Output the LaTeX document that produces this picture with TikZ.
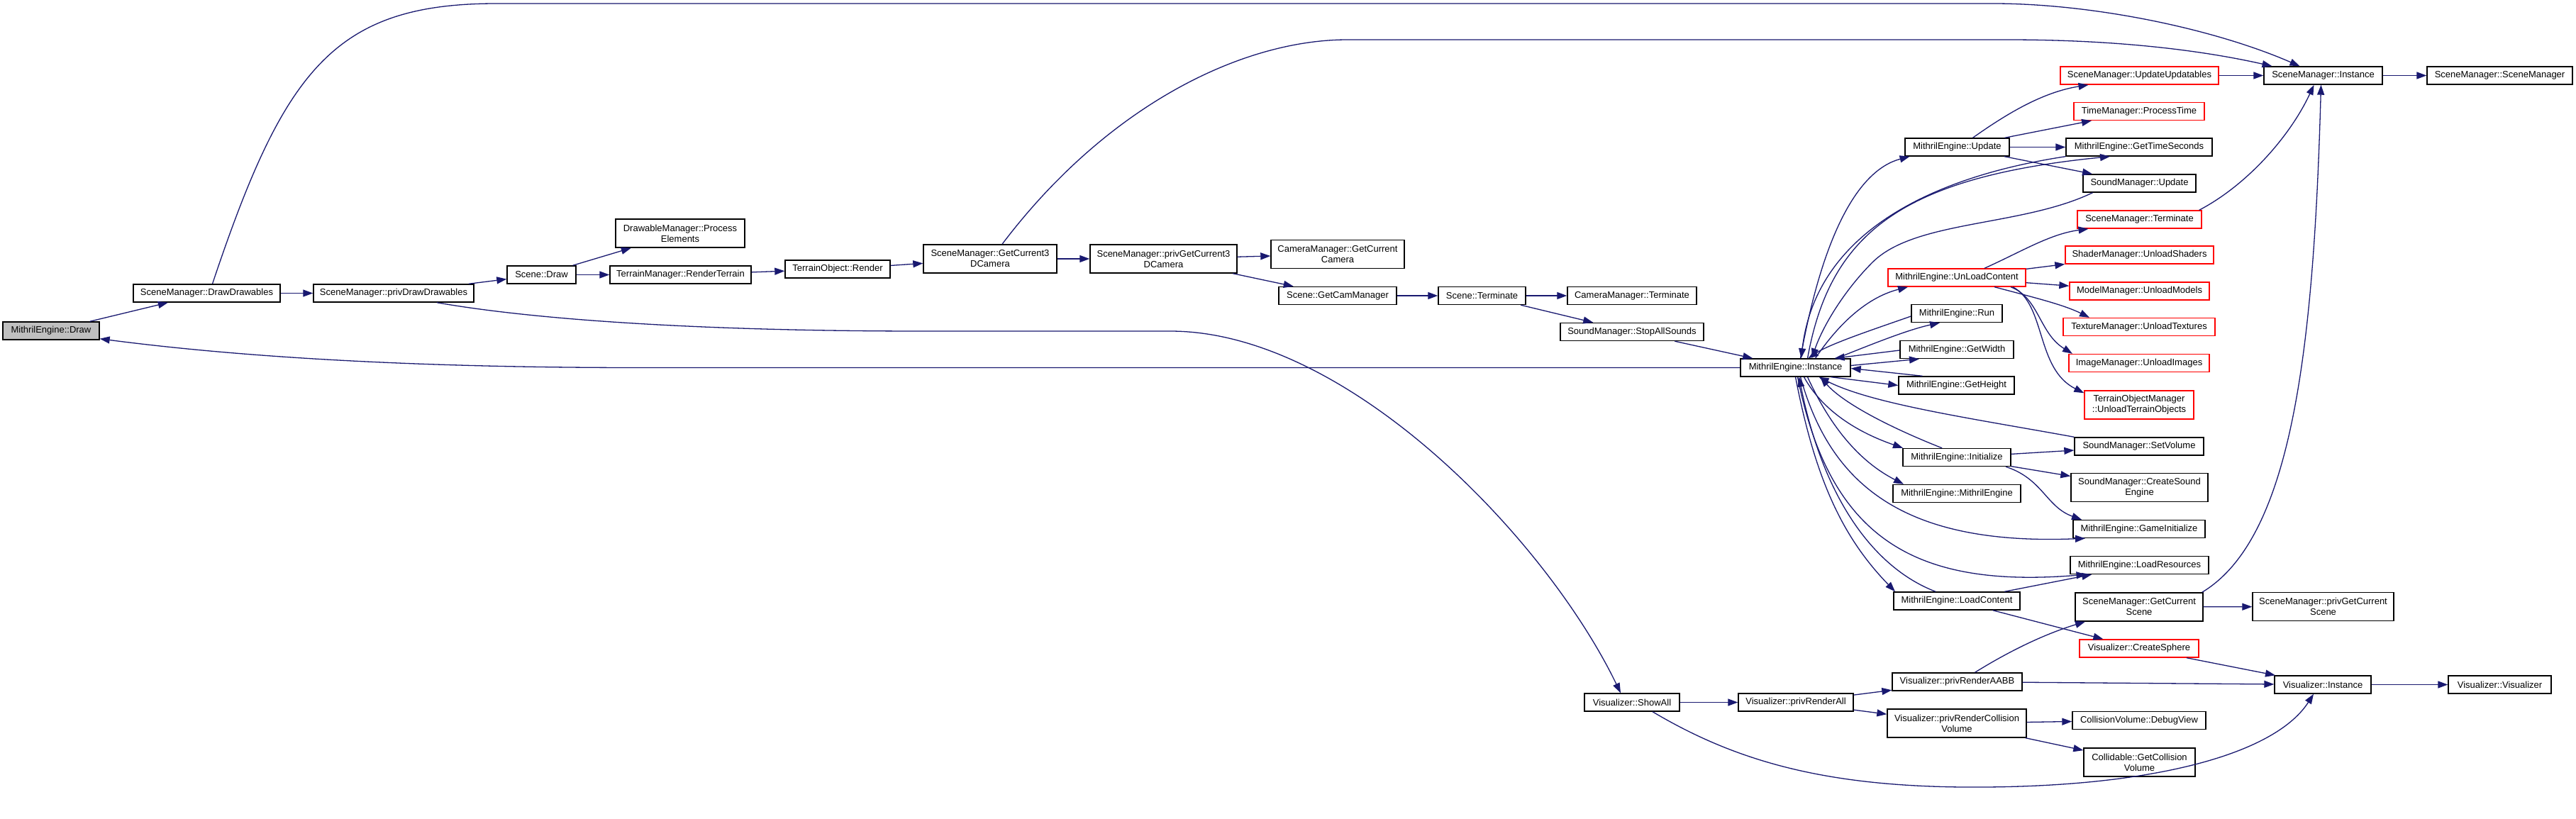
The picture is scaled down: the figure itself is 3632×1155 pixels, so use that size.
\documentclass[tikz,border=0pt]{standalone}
\usepackage{fontspec}
\setmainfont{Liberation Sans}
\usetikzlibrary{arrows.meta}
\definecolor{edgeblue}{HTML}{191970}
\definecolor{nodegray}{HTML}{BFBFBF}
\tikzset{
  box/.style={draw=black, fill=white, line width=1.4pt, inner sep=0pt, align=center, font=\fontsize{13}{15}\selectfont},
  redbox/.style={box, draw=red},
  graybox/.style={box, fill=nodegray},
  wh/.style 2 args={minimum width=#1pt, minimum height=#2pt},
  edge/.style={draw=edgeblue, line width=1.3pt, -{Triangle[length=14pt,width=10pt]}},
}
\begin{document}
\begin{tikzpicture}[x=1pt, y=-1pt]
\fill[white] (0,0) rectangle (3632,1155);
\useasboundingbox (0,0) rectangle (3632,1155);
% nodes
\node[graybox, wh={136}{25}] (draw) at (72,466.5) {MithrilEngine::Draw};
\node[box, wh={207}{25}] (dd) at (291.5,413.5) {SceneManager::DrawDrawables};
\node[box, wh={226}{25}] (pdd) at (555,413.5) {SceneManager::privDrawDrawables};
\node[box, wh={182}{40}] (dmpe) at (959,329) {DrawableManager::Process\\Elements};
\node[box, wh={97}{25}] (sdraw) at (763.5,387.5) {Scene::Draw};
\node[box, wh={199}{25}] (tmrt) at (959.5,387.5) {TerrainManager::RenderTerrain};
\node[box, wh={148}{25}] (tor) at (1181,379.5) {TerrainObject::Render};
\node[box, wh={188}{40}] (gc3) at (1396,365) {SceneManager::GetCurrent3\\DCamera};
\node[box, wh={207}{40}] (pgc3) at (1640.5,365) {SceneManager::privGetCurrent3\\DCamera};
\node[box, wh={188}{40}] (cmgcc) at (1886,358.5) {CameraManager::GetCurrent\\Camera};
\node[box, wh={166}{25}] (sgcm) at (1886,417) {Scene::GetCamManager};
\node[box, wh={123}{25}] (sterm) at (2089.5,417) {Scene::Terminate};
\node[box, wh={182}{25}] (cmterm) at (2301,417) {CameraManager::Terminate};
\node[box, wh={202}{25}] (smsas) at (2301,468) {SoundManager::StopAllSounds};
\node[box, wh={155}{25}] (meinst) at (2531.5,518.5) {MithrilEngine::Instance};
\node[box, wh={147}{25}] (meupd) at (2759.5,207.5) {MithrilEngine::Update};
\node[redbox, wh={223}{25}] (smuu) at (3016.5,106.5) {SceneManager::UpdateUpdatables};
\node[redbox, wh={184}{25}] (tmpt) at (3016,157) {TimeManager::ProcessTime};
\node[box, wh={206}{25}] (megts) at (3016,207.5) {MithrilEngine::GetTimeSeconds};
\node[box, wh={159}{25}] (smupd) at (3016.5,258.5) {SoundManager::Update};
\node[redbox, wh={175}{25}] (smterm) at (3016.5,309.5) {SceneManager::Terminate};
\node[redbox, wh={209}{25}] (shus) at (3016.5,359.5) {ShaderManager::UnloadShaders};
\node[redbox, wh={194}{25}] (meulc) at (2759,391.5) {MithrilEngine::UnLoadContent};
\node[redbox, wh={197}{25}] (mmum) at (3016.5,410.5) {ModelManager::UnloadModels};
\node[box, wh={128}{25}] (merun) at (2759,442) {MithrilEngine::Run};
\node[redbox, wh={214}{25}] (tmut) at (3016,461) {TextureManager::UnloadTextures};
\node[box, wh={160}{25}] (megw) at (2759,493) {MithrilEngine::GetWidth};
\node[redbox, wh={198}{25}] (imui) at (3016,512) {ImageManager::UnloadImages};
\node[box, wh={163}{25}] (megh) at (2758.5,543.5) {MithrilEngine::GetHeight};
\node[redbox, wh={154}{40}] (toum) at (3016,571) {TerrainObjectManager\\::UnloadTerrainObjects};
\node[box, wh={182}{25}] (smsv) at (3016,629.5) {SoundManager::SetVolume};
\node[box, wh={152}{25}] (meinit) at (2759,645) {MithrilEngine::Initialize};
\node[box, wh={193}{40}] (smcse) at (3016.5,687.5) {SoundManager::CreateSound\\Engine};
\node[box, wh={180}{25}] (meme) at (2759,696) {MithrilEngine::MithrilEngine};
\node[box, wh={186}{25}] (megi) at (3016,746) {MithrilEngine::GameInitialize};
\node[box, wh={195}{25}] (melr) at (3016.5,797) {MithrilEngine::LoadResources};
\node[box, wh={178}{25}] (melc) at (2759,847.5) {MithrilEngine::LoadContent};
\node[box, wh={180}{40}] (smgcs) at (3016,856) {SceneManager::GetCurrent\\Scene};
\node[redbox, wh={168}{25}] (vcs) at (3016,914.5) {Visualizer::CreateSphere};
\node[box, wh={183}{25}] (vpraabb) at (2759.5,961.5) {Visualizer::privRenderAABB};
\node[box, wh={162}{25}] (vpra) at (2532,990.5) {Visualizer::privRenderAll};
\node[box, wh={196}{40}] (vprcv) at (2759,1020) {Visualizer::privRenderCollision\\Volume};
\node[box, wh={188}{25}] (cvdv) at (3016,1016) {CollisionVolume::DebugView};
\node[box, wh={157}{40}] (cgcv) at (3016.5,1075) {Collidable::GetCollision\\Volume};
\node[box, wh={134}{25}] (vsa) at (2301,990.5) {Visualizer::ShowAll};
\node[box, wh={167}{25}] (sminst) at (3275.5,106.5) {SceneManager::Instance};
\node[box, wh={205}{25}] (smsm) at (3524.5,106.5) {SceneManager::SceneManager};
\node[box, wh={199}{40}] (smpgcs) at (3275.5,855.5) {SceneManager::privGetCurrent\\Scene};
\node[box, wh={136}{25}] (vinst) at (3275,965.5) {Visualizer::Instance};
\node[box, wh={145}{25}] (vvis) at (3524.5,965.5) {Visualizer::Visualizer};
% edges
\draw[edge] (draw) -- (dd);
\draw[edge] (dd) -- (pdd);
\draw[edge] ([xshift=8pt]dd.north) .. controls (400,100) and (470,5) .. (700,5) -- (2810,5) .. controls (2950,5) and (3120,40) .. ([xshift=-33pt]sminst.north);
\draw[edge] (pdd) -- (sdraw);
\draw[edge] ([xshift=61pt]pdd.south) .. controls (760,452) and (1000,467) .. (1300,467) -- (1650,467) .. controls (1900,467) and (2180,760) .. ([xshift=-16pt]vsa.north);
\draw[edge] (sdraw) -- (dmpe);
\draw[edge] (sdraw) -- (tmrt);
\draw[edge] (tmrt) -- (tor);
\draw[edge] (tor) -- (gc3);
\draw[edge] (gc3) -- (pgc3);
\draw[edge] ([xshift=17pt]gc3.north) .. controls (1560,150) and (1750,56) .. (1900,56) -- (2830,56) .. controls (2980,56) and (3100,70) .. ([xshift=-72pt]sminst.north);
\draw[edge] (pgc3) -- (cmgcc);
\draw[edge] (pgc3) -- (sgcm);
\draw[edge] (sgcm) -- (sterm);
\draw[edge] (sterm) -- (cmterm);
\draw[edge] (sterm) -- (smsas);
\draw[edge] (smsas) -- (meinst);
\draw[edge] (meinst.west) -- (900,518.5) .. controls (600,518.5) and (350,505) .. ([yshift=2pt]draw.south east);
% around MithrilEngine::Update
\draw[edge] ([xshift=7pt]meinst.north) .. controls (2570,330) and (2620,240) .. ([xshift=-67pt]meupd.south);
\draw[edge] ([xshift=22pt]meupd.north) .. controls (2830,160) and (2880,130) .. ([xshift=-72pt]smuu.south);
\draw[edge] (meupd) -- (tmpt);
\draw[edge] (meupd) -- (megts);
\draw[edge] (meupd) -- (smupd);
\draw[edge] ([xshift=17pt]meinst.north) .. controls (2580,330) and (2680,250) .. ([xshift=-41pt]megts.south);
\draw[edge] (megts.south west) .. controls (2720,250) and (2560,330) .. ([xshift=8pt]meinst.north);
\draw[edge] ([xshift=-66pt]smupd.south) .. controls (2850,320) and (2700,310) .. (2640,370) .. controls (2600,410) and (2570,460) .. ([xshift=23pt]meinst.north);
\draw[edge] (smuu) -- (sminst);
\draw[edge] (sminst) -- (smsm);
\draw[edge] ([xshift=-4pt]smterm.north east) .. controls (3170,260) and (3230,190) .. ([xshift=-13pt]sminst.south);
% UnLoadContent
\draw[edge] ([xshift=28pt]meinst.north) .. controls (2590,460) and (2630,420) .. ([xshift=-69pt]meulc.south);
\draw[edge] ([xshift=39pt]meulc.north) .. controls (2850,355) and (2890,330) .. ([xshift=-72pt]smterm.south);
\draw[edge] (meulc) -- (shus);
\draw[edge] (meulc) -- (mmum);
\draw[edge] ([xshift=53pt]meulc.south) .. controls (2870,420) and (2910,430) .. ([xshift=-70pt]tmut.north);
\draw[edge] ([xshift=76pt]meulc.south) .. controls (2875,420) and (2875,470) .. ([xshift=-94pt]imui.north);
\draw[edge] ([xshift=79pt]meulc.south) .. controls (2885,430) and (2870,520) .. ([yshift=-4pt]toum.north west);
% Run, GetWidth, GetHeight
\draw[edge] ([yshift=-4pt]merun.west) .. controls (2640,465) and (2580,485) .. ([xshift=18pt]meinst.north);
\draw[edge] ([xshift=58pt]meinst.north) .. controls (2640,485) and (2690,465) .. ([xshift=-24pt]merun.south);
\draw[edge] ([yshift=-1pt]megw.west) -- ([xshift=55pt]meinst.north);
\draw[edge] ([yshift=3pt]meinst.east) -- ([xshift=-53pt]megw.south);
\draw[edge] ([xshift=-48pt]megh.north) -- ([yshift=-1pt]meinst.east);
\draw[edge] ([xshift=50pt]meinst.south) -- (megh.west);
% Initialize
\draw[edge] (smsv.north west) .. controls (2780,590) and (2640,570) .. ([xshift=33pt]meinst.south);
\draw[edge] ([xshift=-21pt]meinit.north) .. controls (2670,605) and (2600,570) .. ([xshift=35pt]meinst.south);
\draw[edge] ([xshift=12pt]meinst.south) .. controls (2570,580) and (2620,610) .. ([xshift=-76pt]meinit.north);
\draw[edge] (meinit) -- (smsv);
\draw[edge] (meinit) -- (smcse);
\draw[edge] ([xshift=69pt]meinit.south) .. controls (2880,675) and (2885,715) .. ([xshift=-81pt]megi.north);
\draw[edge] ([xshift=17pt]meinst.south) .. controls (2580,600) and (2620,650) .. ([xshift=-75pt]meme.north);
\draw[edge] ([xshift=7pt]meinst.south) .. controls (2580,680) and (2680,770) .. ([xshift=-76pt]megi.south);
\draw[edge] ([xshift=3pt]meinst.south) .. controls (2580,760) and (2700,830) .. ([xshift=-75pt]melr.south);
% LoadContent
\draw[edge] (melc) -- (melr);
\draw[edge] (meinst.south) .. controls (2560,680) and (2600,760) .. ([xshift=-87pt]melc.north);
\draw[edge] ([xshift=-30pt]melc.north) .. controls (2640,800) and (2570,700) .. ([xshift=5pt]meinst.south);
\draw[edge] (melc) -- (vcs);
\draw[edge] (vcs) -- (vinst);
% Visualizer
\draw[edge] (vsa) -- (vpra);
\draw[edge] ([xshift=29pt]vsa.south) .. controls (2450,1075) and (2580,1112) .. (2800,1110) .. controls (3050,1108) and (3210,1060) .. ([xshift=-13pt]vinst.south);
\draw[edge] (vpra) -- (vpraabb);
\draw[edge] (vpra) -- (vprcv);
\draw[edge] ([xshift=25pt]vpraabb.north) .. controls (2830,920) and (2880,895) .. ([xshift=-76pt]smgcs.south);
\draw[edge] (vpraabb) -- (vinst);
\draw[edge] (vprcv) -- (cvdv);
\draw[edge] (vprcv) -- (cgcv);
\draw[edge] (smgcs) -- (smpgcs);
\draw[edge] ([xshift=-2pt]smgcs.north east) .. controls (3230,760) and (3262,500) .. ([xshift=-3pt]sminst.south);
\draw[edge] (vinst) -- (vvis);
\end{tikzpicture}
\end{document}
